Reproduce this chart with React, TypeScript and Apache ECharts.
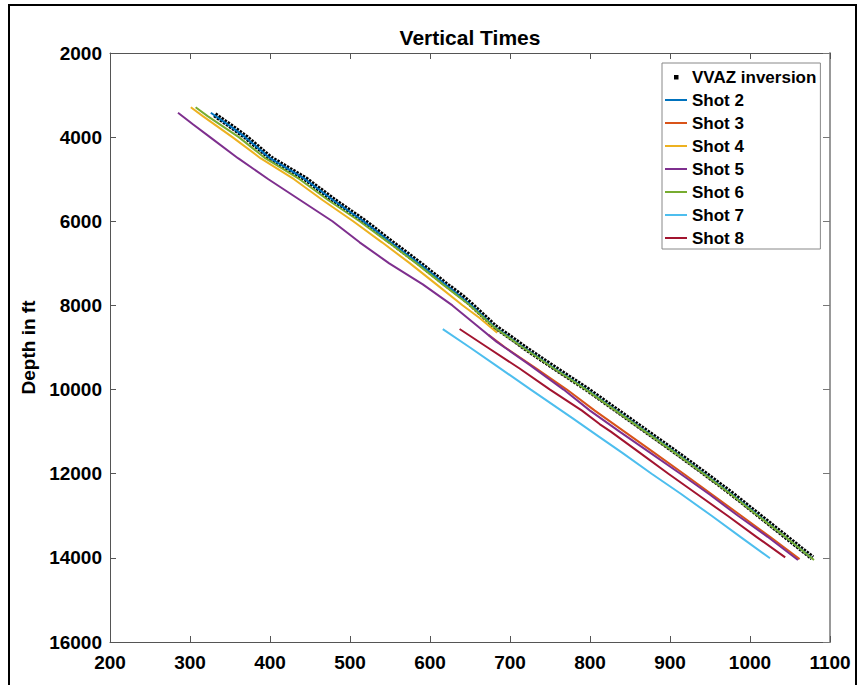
import React, { useEffect, useRef } from "react";
import * as echarts from "echarts";

// ---- data (time in ms on x, depth in ft on y) ----
const vvazDepth = [3470, 3750, 4000, 4500, 5000, 5500, 6000, 6500, 7000, 7500, 7800, 8000, 8500, 8750, 9000, 9500, 10000, 10500, 11000, 11500, 12000, 12500, 13000, 13500, 14000];
const vvazTime = [331, 352, 370, 401, 445, 480, 518, 552, 587, 620, 641, 653, 681, 700, 718, 757, 797, 834, 871, 908, 944, 979, 1012, 1045, 1078];

const shot2Depth = [3420, 3750, 4000, 4500, 5000, 5500, 6000, 6500, 7000, 7500, 8000, 8500, 9000, 9500, 10000, 10500, 11000, 11500, 12000, 12500, 13000, 13500, 14000];
const shot2Time = [326, 351, 369, 400, 444, 479, 517, 551, 586, 619, 652, 680, 717, 756, 796, 833, 870, 907, 943, 978, 1011, 1044, 1077];

const shot3Depth = [8700, 9000, 9500, 10000, 10500, 11000, 11500, 12000, 12500, 13000, 13500, 14030];
const shot3Time = [673, 694, 733, 771, 806, 843, 880, 917, 953, 989, 1025, 1062];

const shot4Depth = [3290, 3500, 4000, 4500, 5000, 5500, 6000, 6500, 7000, 7500, 8000, 8300, 8650];
const shot4Time = [301, 316, 353, 388, 430, 466, 504, 540, 575, 608, 641, 662, 684];

const shot5Depth = [3420, 3700, 4000, 4500, 5000, 5500, 6000, 6500, 7000, 7500, 8000, 8500, 8860, 9420, 10000, 10500, 11000, 11500, 12000, 12500, 13000, 13500, 14050];
const shot5Time = [285, 304, 325, 360, 398, 438, 478, 512, 549, 591, 628, 660, 683, 725, 767, 800, 837, 875, 913, 950, 985, 1022, 1060];

const shot6Depth = [3290, 3500, 4000, 4500, 5000, 5500, 6000, 6500, 7000, 7500, 8000, 8500, 9000, 9500, 10000, 10500, 11000, 11500, 12000, 12500, 13000, 13500, 14050];
const shot6Time = [307, 322, 361, 394, 437, 473, 512, 548, 583, 616, 650, 679, 716, 755, 795, 832, 869, 906, 942, 977, 1010, 1044, 1080];

const shot7Depth = [8565, 9000, 9460, 10000, 10680, 11130, 11500, 12000, 12470, 13000, 13500, 14010];
const shot7Time = [616, 650, 685, 726, 778, 812, 840, 877, 913, 952, 988, 1025];

const shot8Depth = [8560, 9000, 9500, 10000, 10500, 10820, 11000, 11500, 12000, 12500, 13000, 13500, 13990];
const shot8Time = [637, 672, 712, 750, 790, 812, 826, 862, 898, 935, 972, 1008, 1044];

const xTicks = { min: 200, max: 1100, interval: 100 };
const yTicks = { min: 2000, max: 16000, interval: 2000 };

const shotNames = ["Shot 2", "Shot 3", "Shot 4", "Shot 5", "Shot 6", "Shot 7", "Shot 8"];
const shotColors = ["#0072BD", "#D95319", "#EDB120", "#7E2F8E", "#77AC30", "#4DBEEE", "#A2142F"];

const zip = (t: number[], d: number[]) => d.map((v, i) => [t[i], v]);

const FONT = "'Liberation Sans', Arial, Helvetica, sans-serif";

export default function App() {
  const ref = useRef<HTMLDivElement>(null);

  useEffect(() => {
    if (!ref.current) return;
    const chart = echarts.init(ref.current, undefined, { renderer: "svg" });

    const shotData = [
      zip(shot2Time, shot2Depth),
      zip(shot3Time, shot3Depth),
      zip(shot4Time, shot4Depth),
      zip(shot5Time, shot5Depth),
      zip(shot6Time, shot6Depth),
      zip(shot7Time, shot7Depth),
      zip(shot8Time, shot8Depth),
    ];

    const axisLine = { show: true, lineStyle: { color: "#555", width: 1 } };
    const axisTick = { show: true, inside: true, length: 6, lineStyle: { color: "#555", width: 1 } };
    const labelStyle = {
      fontFamily: FONT,
      fontWeight: "bold" as const,
      fontSize: 19,
      color: "#000",
      formatter: (v: number) => String(v),
    };

    const lineIcon = "path://M0,0M22,20M0,9h22v2h-22z";
    const dotIcon = "path://M0,0M22,20M9,8h4.5v4.5h-4.5z";

    chart.setOption({
      animation: false,
      backgroundColor: "#fff",
      title: {
        text: "Vertical Times",
        left: 470,
        top: 27,
        textAlign: "center",
        padding: 0,
        textStyle: { fontFamily: FONT, fontWeight: "bold", fontSize: 21, color: "#000" },
      },
      grid: { left: 110, right: 28, top: 53, bottom: 43, containLabel: false },
      legend: {
        orient: "vertical",
        left: 662,
        top: 63,
        width: 158,
        backgroundColor: "#fff",
        borderColor: "#888",
        borderWidth: 1,
        borderRadius: 0,
        padding: [4, 4, 1, 3],
        itemGap: 3,
        itemWidth: 22,
        itemHeight: 20,
        itemStyle: { borderWidth: 0 },
        textStyle: { fontFamily: FONT, fontWeight: "bold", fontSize: 17, color: "#000", lineHeight: 20 },
        data: [
          { name: "VVAZ inversion", icon: dotIcon },
          ...shotNames.map((n) => ({ name: n, icon: lineIcon })),
        ],
      },
      xAxis: [
        {
          type: "value",
          position: "bottom",
          ...xTicks,
          axisLine,
          axisTick,
          splitLine: { show: false },
          axisLabel: { ...labelStyle, margin: 11 },
        },
        {
          type: "value",
          position: "top",
          ...xTicks,
          axisLine,
          axisTick,
          splitLine: { show: false },
          axisLabel: { show: false },
        },
      ],
      yAxis: [
        {
          type: "value",
          inverse: true,
          position: "left",
          ...yTicks,
          name: "Depth in ft",
          nameLocation: "middle",
          nameGap: 50,
          nameTextStyle: { fontFamily: FONT, fontWeight: "bold", fontSize: 19, color: "#000" },
          axisLine,
          axisTick,
          splitLine: { show: false },
          axisLabel: { ...labelStyle, margin: 8 },
        },
        {
          type: "value",
          inverse: true,
          position: "right",
          ...yTicks,
          axisLine: { show: true, lineStyle: { color: "#999", width: 2 } },
          axisTick: { show: true, inside: true, length: 7, lineStyle: { color: "#777", width: 1 } },
          splitLine: { show: false },
          axisLabel: { show: false },
        },
      ],
      series: [
        {
          name: "VVAZ inversion",
          type: "line",
          xAxisIndex: 0,
          yAxisIndex: 0,
          data: zip(vvazTime, vvazDepth),
          showSymbol: false,
          symbol: "none",
          color: "#000",
          lineStyle: { color: "#000", width: 5.5, type: [2.5, 1.2], cap: "butt" },
          z: 2,
        },
        ...shotNames.map((n, i) => ({
          name: n,
          type: "line",
          xAxisIndex: 0,
          yAxisIndex: 0,
          data: shotData[i],
          showSymbol: false,
          symbol: "none",
          color: shotColors[i],
          lineStyle: { color: shotColors[i], width: 2 },
          z: 3,
        })),
      ],
      graphic: [
        {
          type: "rect",
          shape: { x: 9, y: 5, width: 847, height: 700 },
          style: { fill: "none", stroke: "#000", lineWidth: 2 },
          silent: true,
          z: 100,
        },
      ],
    });

    return () => chart.dispose();
  }, []);

  return (
    <div
      ref={ref}
      style={{ position: "fixed", left: 0, top: 0, width: 858, height: 685, background: "#fff" }}
    />
  );
}
